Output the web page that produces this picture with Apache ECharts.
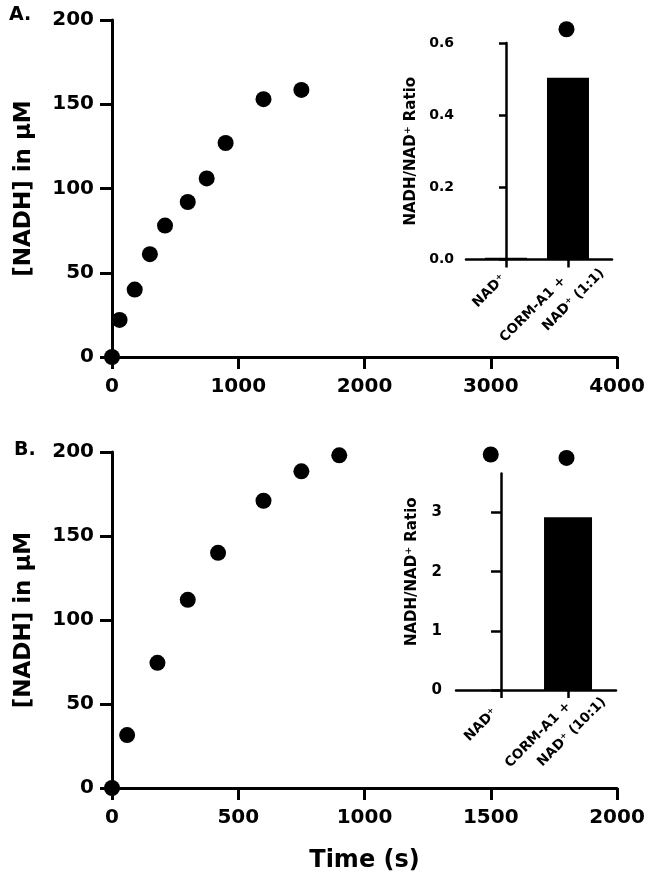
<!DOCTYPE html>
<html>
<head>
<meta charset="utf-8">
<script src="https://cdn.jsdelivr.net/npm/echarts@6/dist/echarts.min.js"></script>
<style>html,body{margin:0;padding:0;background:#fff}#c{width:655px;height:881px}</style>
</head>
<body>
<div id="c"></div>
<script>
// Panel A: NADH vs time
const timeA = [0, 60, 180, 300, 420, 600, 750, 900, 1200, 1500, 3600];
const nadhA = [0, 22, 40, 61, 78, 92, 106, 127, 153, 158.5, 194.5];
// Panel B: NADH vs time
const timeB = [0, 60, 180, 300, 420, 600, 750, 900, 1500, 1800];
const nadhB = [0, 31.5, 74.5, 112, 140, 171, 188.5, 198, 198.5, 196.5];
// Insets: NADH/NAD+ ratio (category labels, two lines each)
const catsA = [['NAD⁺', ''], ['CORM-A1 +', 'NAD⁺ (1:1)']];
const ratioA = [0.005, 0.504];
const catsB = [['NAD⁺', ''], ['CORM-A1 +', 'NAD⁺ (10:1)']];
const ratioB = [0, 2.92];
const mainYTicks = [0, 50, 100, 150, 200];
const insetATicks = [0, 0.2, 0.4, 0.6];
const insetBTicks = [0, 1, 2, 3];

const F = 'DejaVu Sans';
const NB = n => '\u00a0'.repeat(n);
const lineS = w => ({show: true, lineStyle: {color: '#000', width: w}});
const tickS = (len, w) => ({show: true, inside: false, length: len, lineStyle: {color: '#000', width: w}});
const lab = (size, margin) => ({color: '#000', fontFamily: F, fontWeight: 'bold', fontSize: size, margin: margin});
const plain = v => String(v);
// stagger of the two label lines (layout only)
const catFmt = (cats, shifts) => v => {
  const i = Math.round(v);
  const s = shifts[i];
  const l1 = NB(s[0]) + cats[i][0] + NB(s[1]);
  const l2 = NB(s[2]) + (cats[i][1] || '\u00a0');
  return l1 + '\n' + l2;
};
const catLabel = fmt => Object.assign(lab(13.5, 61.5), {
  customValues: [0, 1], rotate: 45, align: 'center', verticalAlign: 'bottom', lineHeight: 22, formatter: fmt});

const option = {
  backgroundColor: '#fff',
  animation: false,
  graphic: [
    {type: 'text', left: 9, top: 6, style: {text: 'A.', font: 'bold 19px "DejaVu Sans"', fill: '#000'}},
    {type: 'text', left: 14, top: 441, style: {text: 'B.', font: 'bold 19px "DejaVu Sans"', fill: '#000'}}
  ],
  grid: [
    {left: 112, top: 20, width: 505, height: 337},
    {left: 112, top: 452, width: 505, height: 336},
    {left: 466, top: 43, width: 146, height: 216.5},
    {left: 456, top: 473.5, width: 160, height: 216.5}
  ],
  xAxis: [
    {gridIndex: 0, type: 'value', min: 0, max: 4000, interval: 1000, splitLine: {show: false},
     axisLine: lineS(3), axisTick: tickS(12, 3), axisLabel: Object.assign(lab(20, 20), {formatter: plain})},
    {gridIndex: 1, type: 'value', min: 0, max: 2000, interval: 500, splitLine: {show: false},
     axisLine: lineS(3), axisTick: tickS(12, 3), axisLabel: Object.assign(lab(20, 20), {formatter: plain}),
     name: 'Time (s)', nameLocation: 'middle', nameGap: 61,
     nameTextStyle: {color: '#000', fontFamily: F, fontWeight: 'bold', fontSize: 24}},
    {gridIndex: 2, type: 'value', min: -0.645, max: 1.71, splitLine: {show: false},
     axisLine: lineS(2.5),
     axisTick: Object.assign(tickS(8, 2.5), {customValues: [0, 1]}),
     axisLabel: catLabel(catFmt(catsA, [[4, 0, 0], [0, 7, 8]]))},
    {gridIndex: 3, type: 'value', min: -0.672, max: 1.716, splitLine: {show: false},
     axisLine: lineS(2.5),
     axisTick: Object.assign(tickS(8, 2.5), {customValues: [0, 1]}),
     axisLabel: catLabel(catFmt(catsB, [[2, 0, 0], [0, 4, 7]]))}
  ],
  yAxis: [
    {gridIndex: 0, type: 'value', min: 0, max: 200, interval: 50, splitLine: {show: false},
     axisLine: lineS(3), axisTick: tickS(12, 3), axisLabel: lab(20, 18),
     name: '[NADH] in µM', nameLocation: 'middle', nameGap: 76,
     nameTextStyle: {color: '#000', fontFamily: F, fontWeight: 'bold', fontSize: 23}},
    {gridIndex: 1, type: 'value', min: 0, max: 200, interval: 50, splitLine: {show: false},
     axisLine: lineS(3), axisTick: tickS(12, 3), axisLabel: lab(20, 18),
     name: '[NADH] in µM', nameLocation: 'middle', nameGap: 76,
     nameTextStyle: {color: '#000', fontFamily: F, fontWeight: 'bold', fontSize: 23}},
    {gridIndex: 2, type: 'value', min: 0, max: 0.6, splitLine: {show: false},
     axisLine: lineS(2.5),
     axisTick: Object.assign(tickS(7, 2.5), {customValues: insetATicks}),
     axisLabel: Object.assign(lab(14, 12), {customValues: insetATicks, formatter: v => v.toFixed(1)}),
     name: 'NADH/NAD⁺ Ratio', nameLocation: 'middle', nameGap: 47,
     nameTextStyle: {color: '#000', fontFamily: F, fontWeight: 'bold', fontSize: 15}},
    {gridIndex: 3, type: 'value', min: 0, max: 3.66, splitLine: {show: false},
     axisLine: lineS(2.5),
     axisTick: Object.assign(tickS(10, 2.5), {customValues: insetBTicks}),
     axisLabel: Object.assign(lab(15, 14), {customValues: insetBTicks}),
     name: 'NADH/NAD⁺ Ratio', nameLocation: 'middle', nameGap: 36,
     nameTextStyle: {color: '#000', fontFamily: F, fontWeight: 'bold', fontSize: 15, padding: [0, 0, 0, 20]}}
  ],
  series: [
    {type: 'scatter', xAxisIndex: 0, yAxisIndex: 0, symbol: 'circle', symbolSize: 16, clip: false,
     itemStyle: {color: '#000', opacity: 1}, data: timeA.map((t, i) => [t, nadhA[i]]), z: 5},
    {type: 'scatter', xAxisIndex: 1, yAxisIndex: 1, symbol: 'circle', symbolSize: 16, clip: false,
     itemStyle: {color: '#000', opacity: 1}, data: timeB.map((t, i) => [t, nadhB[i]]), z: 5},
    {type: 'bar', xAxisIndex: 2, yAxisIndex: 2, barWidth: 42,
     itemStyle: {color: '#000'}, data: ratioA.map((r, i) => [i, r])},
    {type: 'bar', xAxisIndex: 3, yAxisIndex: 3, barWidth: 48,
     itemStyle: {color: '#000'}, data: ratioB.map((r, i) => [i, r])}
  ]
};
const chart = echarts.init(document.getElementById('c'), null, {renderer: 'canvas'});
chart.setOption(option);
</script>
</body>
</html>
